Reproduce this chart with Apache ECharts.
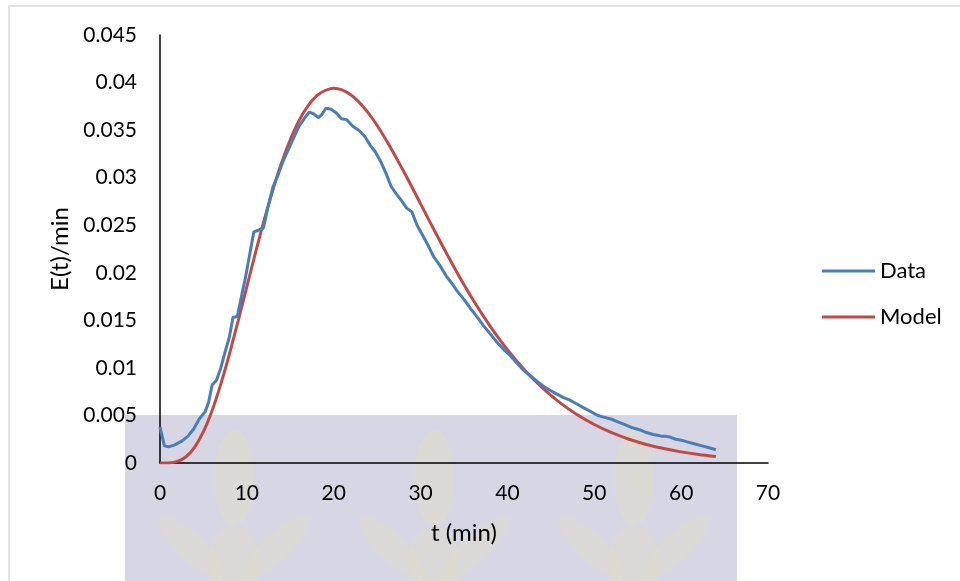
<!DOCTYPE html>
<html><head><meta charset="utf-8">
<script src="https://cdn.jsdelivr.net/npm/echarts@6/dist/echarts.min.js"></script>
<style>html,body{margin:0;padding:0;background:#fff}#c{width:960px;height:581px}</style>
</head><body><div id="c"></div>
<script>
// ---- data ----
const dataT = [0,0.5,1.0,1.7,2.5,3.2,3.9,4.5,5.2,5.6,6.0,6.5,7.0,7.5,8.0,8.4,8.9,9.4,9.8,10.3,10.8,11.4,11.9,12.4,13.0,13.6,14.2,14.8,15.4,16.0,16.6,17.2,17.7,18.2,18.6,19.1,19.7,20.3,20.9,21.5,22.2,23.0,23.6,24.2,24.8,25.4,26.0,26.6,27.2,27.8,28.4,29.0,29.6,30.2,30.8,31.5,32.2,33.0,33.6,34.2,35.0,35.7,36.4,37.2,38.0,38.8,39.5,40.3,41.0,41.8,42.6,43.4,44.1,44.8,45.6,46.4,47.2,48.0,48.8,49.6,50.4,51.2,52.0,52.8,53.6,54.4,55.2,56.0,56.8,57.4,57.8,58.3,58.8,59.4,60.0,60.8,61.6,62.4,63.2,64.0];
const dataE = [0.0038,0.0018,0.0017,0.0019,0.0023,0.0028,0.0036,0.0046,0.0054,0.0064,0.0082,0.0087,0.0100,0.0117,0.0133,0.0153,0.0154,0.0176,0.0193,0.0218,0.0243,0.0245,0.0247,0.0268,0.0290,0.0303,0.0318,0.0330,0.0342,0.0354,0.0362,0.0369,0.0367,0.0363,0.0366,0.0373,0.0372,0.0368,0.0362,0.0361,0.0354,0.0349,0.0343,0.0334,0.0327,0.0317,0.0305,0.0291,0.0283,0.0276,0.0268,0.0264,0.0250,0.0240,0.0230,0.0217,0.0208,0.0196,0.0189,0.0181,0.0172,0.0163,0.0155,0.0145,0.0136,0.0127,0.0120,0.0113,0.0106,0.0098,0.0092,0.0086,0.0081,0.0077,0.0073,0.0069,0.0066,0.0062,0.0058,0.0054,0.0050,0.0048,0.0046,0.0043,0.0040,0.0037,0.0035,0.0032,0.0030,0.0029,0.0028,0.0028,0.0027,0.0025,0.0024,0.0022,0.0020,0.0018,0.0016,0.0014];
const modelT = [0,1,2,3,4,5,6,7,8,9,10,12,14,16,18,20,22,24,26,28,30,32,34,36,38,40,42,44,46,48,50,52,54,56,58,60,62,64];
const modelE = [0,0.00001,0.00017,0.00066,0.00168,0.00329,0.00552,0.00829,0.01147,0.01495,0.01855,0.02557,0.03158,0.0360,0.03858,0.0394,0.03869,0.03678,0.03402,0.03075,0.02725,0.02373,0.02035,0.01722,0.0144,0.01191,0.00975,0.00792,0.00637,0.00510,0.00405,0.00319,0.00250,0.00195,0.00152,0.00117,0.00090,0.00069];
const seriesNames = ['Data','Model'];
const xTicks = [0,10,20,30,40,50,60,70];
const yTicks = [0,0.005,0.01,0.015,0.02,0.025,0.03,0.035,0.04,0.045];
const xName = 't (min)';
const yName = 'E(t)/min';

const FONT = 'Lato';
const chart = echarts.init(document.getElementById('c'), null, {renderer:'canvas'});

function leaf(cx, cy, rx, ry, rot, op){
  return {type:'ellipse', z:-5, shape:{cx:0, cy:0, rx:rx, ry:ry}, x:cx, y:cy, rotation:rot,
          style:{fill:'#e2dec6', opacity:op}, silent:true};
}
function tree(cx){
  return [
    leaf(cx, 478, 20, 48, 0, 0.55),
    leaf(cx-42, 548, 14, 44, 0.8, 0.4),
    leaf(cx+42, 548, 14, 44, -0.8, 0.4),
    leaf(cx, 562, 26, 36, 0, 0.4)
  ];
}
const wm = [{type:'rect', z:-10, shape:{x:125, y:415, width:612, height:170}, style:{fill:'#d6d6e4'}, silent:true}]
  .concat(tree(234), tree(434), tree(634));

chart.setOption({
  animation:false,
  backgroundColor:'#fff',
  graphic:{elements: wm.concat([
    {type:'rect', z:-20, shape:{x:9, y:6, width:960, height:585}, style:{fill:'none', stroke:'#d9d9d9', lineWidth:1.5}, silent:true}
  ])},
  grid:{left:160, right:192, top:35, bottom:118},
  legend:{
    orient:'vertical', left:822, top:260, padding:0, itemWidth:53, itemHeight:3, itemGap:24, icon:'rect',
    textStyle:{fontFamily:FONT, fontSize:22, color:'#000', padding:[0,0,0,0]},
    data: seriesNames
  },
  xAxis:{
    type:'value', min:0, max:70, interval:10,
    name:xName, nameLocation:'middle', nameGap:58,
    nameTextStyle:{fontFamily:FONT, fontSize:24, color:'#000'},
    axisLine:{show:true, onZero:false, lineStyle:{color:'#000', width:1.5}},
    axisTick:{show:false}, splitLine:{show:false},
    axisLabel:{fontFamily:FONT, fontSize:21, color:'#000', margin:20,
      formatter:v => xTicks.includes(v) ? String(v) : ''}
  },
  yAxis:{
    type:'value', min:0, max:0.045, interval:0.005,
    name:yName, nameLocation:'middle', nameGap:87, nameRotate:90,
    nameTextStyle:{fontFamily:FONT, fontSize:24, color:'#000'},
    axisLine:{show:true, lineStyle:{color:'#000', width:1.5}},
    axisTick:{show:false}, splitLine:{show:false},
    axisLabel:{fontFamily:FONT, fontSize:21, color:'#000', margin:23,
      formatter:v => { const r = +(+v).toFixed(3); const m = yTicks.find(t => Math.abs(t-r)<1e-9); return m===undefined ? '' : String(m); }}
  },
  series:[
    {name:seriesNames[0], type:'line', data:dataT.map((t,i)=>[t,dataE[i]]), showSymbol:false, symbol:'none',
     lineStyle:{color:'#4a7ebb', width:3}, itemStyle:{color:'#4a7ebb'}, z:3},
    {name:seriesNames[1], type:'line', data:modelT.map((t,i)=>[t,modelE[i]]), showSymbol:false, symbol:'none', smooth:0.3,
     lineStyle:{color:'#be4b48', width:3}, itemStyle:{color:'#be4b48'}, z:2}
  ]
});
</script></body></html>
